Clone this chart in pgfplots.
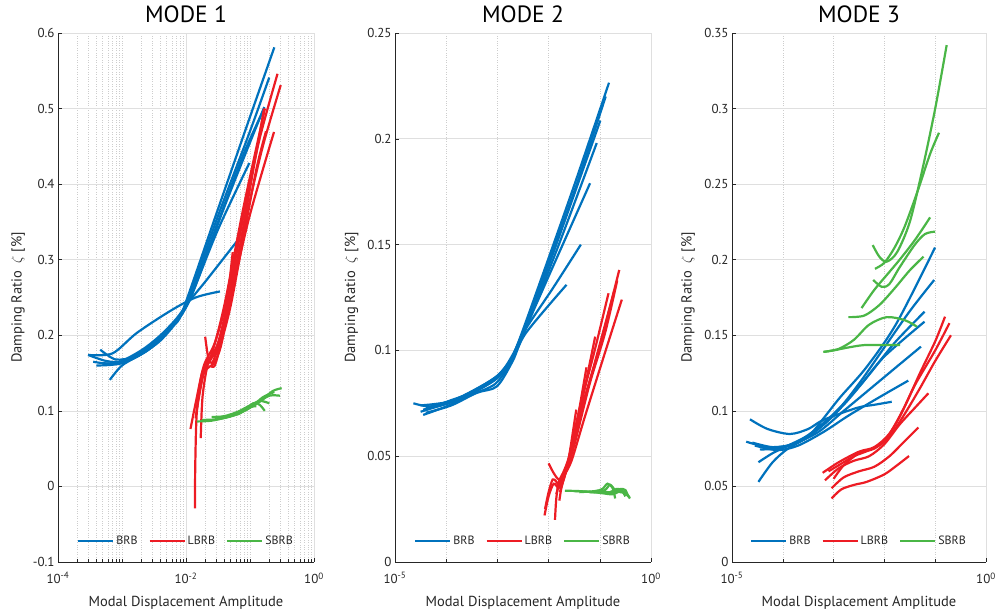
\documentclass[border=0pt]{standalone}
\usepackage{pgfplots}
\pgfplotsset{compat=1.18}
\usepackage{fontspec}
\setmainfont{PT Sans}
\definecolor{cbrb}{RGB}{0,114,189}
\definecolor{clbrb}{RGB}{237,28,36}
\definecolor{csbrb}{RGB}{74,182,70}
\definecolor{axc}{RGB}{38,38,38}
\definecolor{gridc}{RGB}{223,223,223}
\definecolor{mgridc}{RGB}{205,205,205}
\pgfplotsset{
  brb/.style={color=cbrb, line width=2.2pt, smooth, tension=0.5},
  lbrb/.style={color=clbrb, line width=2.2pt, smooth, tension=0.5},
  sbrb/.style={color=csbrb, line width=2.2pt, smooth, tension=0.5},
  mstyle/.style={
    scale only axis, anchor=south west, height=529pt,
    axis x line*=bottom, axis y line*=left,
    axis line style={-, draw=axc, line width=0.6pt},
    tick align=inside, major tick length=4pt, minor tick length=2.5pt,
    every tick/.style={draw=axc, line width=0.5pt},
    xmajorgrids, ymajorgrids, xminorgrids,
    major grid style={solid, draw=gridc, line width=0.7pt},
    minor grid style={dash pattern=on 0.6pt off 1.8pt, draw=mgridc, line width=0.55pt},
    ticklabel style={color=axc, font=\fontsize{13}{15}\selectfont},
    yticklabel style={/pgf/number format/fixed, /pgf/number format/assume math mode=true},
    xticklabel style={yshift=-7pt},
    minor y tick num=0,
    xlabel={Modal Displacement Amplitude},
    ylabel={Damping Ratio \ $\zeta$ [\%]},
    every axis x label/.style={at={(axis description cs:0.5,-0.0845)}, anchor=base,
      color=axc, font=\fontsize{14.5}{17}\selectfont},
    title style={font=\fontsize{23.5}{27}\selectfont, color=black, at={(axis description cs:0.5,1.0246)}, anchor=center},
    legend style={at={(axis description cs:0.5,0.04)}, anchor=center, draw=none, fill=none,
      font=\fontsize{12}{14}\selectfont, text=axc, legend columns=3,
      /tikz/every even column/.append style={column sep=9pt},
      nodes={inner sep=2pt}},
    legend image code/.code={\draw[#1] (0pt,0pt) -- (35pt,0pt);},
    no markers,
  },
  ylab/.style={every axis y label/.style={at={(axis description cs:#1,0.5)}, rotate=90, anchor=base,
      color=axc, font=\fontsize{14.5}{17}\selectfont}},
}
\begin{document}
\begin{tikzpicture}
\useasboundingbox (0,0) rectangle (997pt,615pt);
% ---------------- MODE 1 ----------------
\begin{axis}[mstyle, ylab=-0.1418, at={(58pt,53pt)}, width=256pt, title={MODE 1},
  xmin=-4, xmax=0, ymin=-0.1, ymax=0.6,
  xtick={-4,-2,0}, xticklabels={10\textsuperscript{-4},10\textsuperscript{-2},10\textsuperscript{0}},
  minor xtick={-3.699,-3.523,-3.398,-3.301,-3.222,-3.155,-3.097,-3.046,-3,
    -2.699,-2.523,-2.398,-2.301,-2.222,-2.155,-2.097,-2.046,
    -1.699,-1.523,-1.398,-1.301,-1.222,-1.155,-1.097,-1.046,-1,
    -0.699,-0.523,-0.398,-0.301,-0.222,-0.155,-0.097,-0.046},
  ytick={-0.1,0,0.1,0.2,0.3,0.4,0.5,0.6},
]
\addlegendimage{brb}\addlegendimage{lbrb}\addlegendimage{sbrb}
\legend{BRB,LBRB,SBRB}
% BRB
\addplot[brb] coordinates {(-3.53,0.174)(-3.25,0.166)(-3.0,0.165)(-2.7,0.175)(-2.45,0.19)(-2.2,0.213)(-2.05,0.233)(-1.5,0.367)(-1.0,0.489)(-0.62,0.581)};
\addplot[brb] coordinates {(-3.34,0.181)(-3.1,0.168)(-2.8,0.172)(-2.5,0.188)(-2.2,0.215)(-2.0,0.24)(-1.5,0.358)(-1.0,0.47)(-0.70,0.541)};
\addplot[brb] coordinates {(-3.29,0.163)(-3.05,0.164)(-2.7,0.178)(-2.4,0.197)(-2.1,0.225)(-1.9,0.255)(-1.4,0.37)(-0.777,0.502)};
\addplot[brb] coordinates {(-3.4,0.16)(-3.0,0.163)(-2.6,0.18)(-2.3,0.205)(-2.0,0.238)(-1.5,0.35)(-1.1,0.44)(-0.79,0.498)};
\addplot[brb] coordinates {(-3.19,0.141)(-3.0,0.16)(-2.7,0.175)(-2.4,0.193)(-2.1,0.223)(-1.9,0.256)(-1.5,0.34)(-1.01,0.428)};
\addplot[brb] coordinates {(-3.45,0.165)(-3.1,0.163)(-2.7,0.18)(-2.4,0.2)(-2.15,0.222)(-1.95,0.245)(-1.68,0.273)(-1.18,0.327)};
\addplot[brb] coordinates {(-3.53,0.174)(-3.15,0.176)(-2.77,0.203)(-2.25,0.232)(-1.85,0.25)(-1.47,0.258)};
% LBRB
\addplot[lbrb] coordinates {(-1.93,0.076)(-1.85,0.11)(-1.72,0.16)(-1.55,0.19)(-1.35,0.25)(-1.1,0.36)(-0.85,0.46)(-0.57,0.546)};
\addplot[lbrb] coordinates {(-1.77,0.064)(-1.74,0.12)(-1.65,0.165)(-1.5,0.19)(-1.3,0.26)(-1.05,0.36)(-0.8,0.45)(-0.52,0.531)};
\addplot[lbrb] coordinates {(-1.86,-0.029)(-1.855,0.03)(-1.83,0.1)(-1.75,0.15)(-1.6,0.175)(-1.4,0.24)(-1.1,0.37)(-0.766,0.50)};
\addplot[lbrb] coordinates {(-1.7,0.198)(-1.65,0.17)(-1.58,0.165)(-1.45,0.2)(-1.25,0.27)(-1.0,0.36)(-0.625,0.469)};
\addplot[lbrb] coordinates {(-1.85,0.09)(-1.75,0.145)(-1.6,0.17)(-1.45,0.2)(-1.25,0.29)(-1.016,0.399)};
\addplot[lbrb] coordinates {(-1.83,0.101)(-1.72,0.15)(-1.55,0.165)(-1.42,0.2)(-1.27,0.31)};
\addplot[lbrb] coordinates {(-1.8,0.12)(-1.68,0.165)(-1.5,0.18)(-1.3,0.25)(-1.05,0.37)(-0.78,0.5)};
\addplot[lbrb] coordinates {(-1.62,0.16)(-1.55,0.16)(-1.45,0.19)(-1.3,0.24)(-1.1,0.33)(-0.9,0.42)(-0.75,0.47)};
% SBRB
\addplot[sbrb] coordinates {(-1.83,0.086)(-1.6,0.087)(-1.35,0.092)(-1.1,0.1)(-0.85,0.112)(-0.65,0.126)(-0.505,0.13)};
\addplot[sbrb] coordinates {(-1.6,0.092)(-1.4,0.093)(-1.15,0.1)(-0.9,0.11)(-0.7,0.12)(-0.53,0.12)};
\addplot[sbrb] coordinates {(-1.55,0.09)(-1.3,0.094)(-1.05,0.105)(-0.85,0.113)(-0.70,0.11)};
\addplot[sbrb] coordinates {(-1.4,0.091)(-1.15,0.097)(-0.95,0.11)(-0.85,0.108)(-0.77,0.1)};
\addplot[sbrb] coordinates {(-1.75,0.088)(-1.5,0.089)(-1.25,0.094)(-1.0,0.104)(-0.8,0.118)(-0.62,0.125)};
\addplot[sbrb] coordinates {(-1.2,0.095)(-1.0,0.105)(-0.9,0.106)};
\end{axis}
% ---------------- MODE 2 ----------------
\begin{axis}[mstyle, ylab=-0.156, at={(395pt,53pt)}, width=256pt, title={MODE 2},
  xmin=-5, xmax=0, ymin=0, ymax=0.25,
  xtick={-5,0}, xticklabels={10\textsuperscript{-5},10\textsuperscript{0}},
  minor xtick={-4,-3,-2,-1},
  ytick={0,0.05,0.1,0.15,0.2,0.25},
]
\addlegendimage{brb}\addlegendimage{lbrb}\addlegendimage{sbrb}
\legend{BRB,LBRB,SBRB}
% BRB
\addplot[brb] coordinates {(-4.64,0.075)(-4.3,0.0735)(-3.9,0.0765)(-3.4,0.081)(-3.0,0.087)(-2.8,0.093)(-2.62,0.102)(-2.2,0.13)(-1.5,0.178)(-0.82,0.2265)};
\addplot[brb] coordinates {(-4.45,0.0695)(-4.0,0.0735)(-3.5,0.079)(-3.05,0.084)(-2.8,0.092)(-2.6,0.102)(-2.2,0.129)(-1.5,0.175)(-0.885,0.22)};
\addplot[brb] coordinates {(-4.5,0.071)(-4.0,0.075)(-3.5,0.0805)(-3.0,0.088)(-2.75,0.095)(-2.6,0.103)(-2.0,0.14)(-0.99,0.2086)};
\addplot[brb] coordinates {(-4.4,0.073)(-3.9,0.076)(-3.4,0.082)(-3.0,0.088)(-2.7,0.097)(-2.5,0.107)(-1.8,0.15)(-1.06,0.198)};
\addplot[brb] coordinates {(-4.5,0.074)(-4.0,0.0755)(-3.5,0.080)(-3.05,0.086)(-2.8,0.093)(-2.55,0.105)(-2.0,0.135)(-1.19,0.179)};
\addplot[brb] coordinates {(-4.45,0.072)(-3.95,0.075)(-3.4,0.081)(-2.95,0.089)(-2.7,0.098)(-2.45,0.11)(-1.9,0.13)(-1.37,0.150)};
\addplot[brb] coordinates {(-4.4,0.0705)(-3.9,0.074)(-3.4,0.08)(-3.01,0.083)(-2.7,0.095)(-2.45,0.108)(-1.65,0.131)};
% LBRB
\addplot[lbrb] coordinates {(-2.07,0.025)(-2.0,0.033)(-1.92,0.039)(-1.85,0.038)(-1.78,0.036)(-1.7,0.04)(-1.58,0.051)(-1.39,0.07)(-1.0,0.102)(-0.62,0.138)};
\addplot[lbrb] coordinates {(-2.0,0.0466)(-1.9,0.042)(-1.8,0.039)(-1.7,0.041)(-1.55,0.048)(-1.3,0.068)(-0.95,0.095)(-0.57,0.124)};
\addplot[lbrb] coordinates {(-1.875,0.0199)(-1.85,0.03)(-1.8,0.038)(-1.72,0.042)(-1.6,0.05)(-1.4,0.072)(-1.1,0.1)(-0.83,0.127)};
\addplot[lbrb] coordinates {(-2.08,0.022)(-2.0,0.031)(-1.9,0.037)(-1.8,0.035)(-1.72,0.04)(-1.6,0.048)(-1.4,0.07)(-1.09,0.1065)};
\addplot[lbrb] coordinates {(-1.79,0.029)(-1.75,0.035)(-1.68,0.041)(-1.55,0.052)(-1.26,0.092)};
\addplot[lbrb] coordinates {(-1.78,0.033)(-1.72,0.038)(-1.62,0.047)(-1.46,0.072)};
\addplot[lbrb] coordinates {(-1.85,0.032)(-1.75,0.04)(-1.65,0.044)(-1.5,0.058)(-1.2,0.085)(-0.72,0.128)};
\addplot[lbrb] coordinates {(-1.76,0.038)(-1.66,0.043)(-1.5,0.055)(-1.2,0.084)(-0.9,0.108)(-0.66,0.133)};
% SBRB
\addplot[sbrb] coordinates {(-1.68,0.0337)(-1.4,0.0335)(-1.1,0.033)(-0.9,0.034)(-0.8,0.0365)(-0.7,0.034)(-0.6,0.033)(-0.5,0.0325)(-0.41,0.030)};
\addplot[sbrb] coordinates {(-1.4,0.033)(-1.1,0.0335)(-0.95,0.0345)(-0.85,0.037)(-0.75,0.035)(-0.7,0.030)};
\addplot[sbrb] coordinates {(-1.2,0.033)(-0.9,0.033)(-0.7,0.033)(-0.6,0.0345)(-0.5,0.034)(-0.45,0.031)};
\addplot[sbrb] coordinates {(-1.5,0.0335)(-1.2,0.0332)(-0.95,0.0325)(-0.75,0.032)(-0.6,0.0335)(-0.5,0.033)(-0.42,0.0305)};
\addplot[sbrb] coordinates {(-1.0,0.0335)(-0.8,0.033)(-0.68,0.0345)(-0.58,0.034)(-0.5,0.031)};
\end{axis}
% ---------------- MODE 3 ----------------
\begin{axis}[mstyle, ylab=-0.159, at={(732pt,53pt)}, width=254pt, title={MODE 3},
  xmin=-5, xmax=0, ymin=0, ymax=0.35,
  xtick={-5,0}, xticklabels={10\textsuperscript{-5},10\textsuperscript{0}},
  minor xtick={-4,-3,-2,-1},
  ytick={0,0.05,0.1,0.15,0.2,0.25,0.3,0.35},
]
\addlegendimage{brb}\addlegendimage{lbrb}\addlegendimage{sbrb}
\legend{BRB,LBRB,SBRB}
% BRB
\addplot[brb] coordinates {(-4.48,0.053)(-4.2,0.066)(-3.9,0.075)(-3.5,0.083)(-3.2,0.095)(-2.87,0.109)(-2.35,0.129)(-1.76,0.158)(-1.004,0.208)};
\addplot[brb] coordinates {(-4.72,0.0796)(-4.3,0.076)(-3.9,0.077)(-3.5,0.083)(-3.0,0.097)(-2.5,0.118)(-2.0,0.142)(-1.5,0.166)(-1.02,0.1866)};
\addplot[brb] coordinates {(-4.45,0.0745)(-4.1,0.075)(-3.7,0.079)(-3.3,0.088)(-2.8,0.104)(-2.3,0.124)(-1.8,0.145)(-1.21,0.1656)};
\addplot[brb] coordinates {(-4.48,0.066)(-4.2,0.072)(-3.9,0.077)(-3.5,0.084)(-3.0,0.098)(-2.5,0.116)(-2.0,0.136)(-1.21,0.159)};
\addplot[brb] coordinates {(-4.6,0.079)(-4.2,0.076)(-3.8,0.078)(-3.3,0.086)(-2.8,0.1)(-2.3,0.114)(-1.8,0.128)(-1.28,0.1425)};
\addplot[brb] coordinates {(-4.55,0.077)(-4.1,0.074)(-3.7,0.077)(-3.2,0.086)(-2.7,0.097)(-2.1,0.109)(-1.53,0.12)};
\addplot[brb] coordinates {(-4.646,0.0944)(-4.3,0.088)(-3.86,0.0847)(-3.5,0.088)(-3.2,0.094)(-2.54,0.102)(-2.2,0.104)(-1.856,0.106)};
% LBRB
\addplot[lbrb] coordinates {(-3.215,0.059)(-2.9,0.066)(-2.5,0.073)(-2.2,0.076)(-1.9,0.085)(-1.6,0.103)(-1.3,0.125)(-1.0,0.146)(-0.807,0.1623)};
\addplot[lbrb] coordinates {(-3.1,0.06)(-2.85,0.065)(-2.6,0.07)(-2.3,0.074)(-2.0,0.08)(-1.7,0.096)(-1.4,0.117)(-1.0,0.14)(-0.72,0.158)};
\addplot[lbrb] coordinates {(-3.0,0.055)(-2.8,0.064)(-2.5,0.072)(-2.2,0.075)(-1.9,0.083)(-1.6,0.098)(-1.3,0.115)(-1.0,0.133)(-0.69,0.150)};
\addplot[lbrb] coordinates {(-3.17,0.054)(-2.9,0.062)(-2.6,0.067)(-2.3,0.07)(-2.0,0.078)(-1.7,0.091)(-1.4,0.102)(-1.135,0.1116)};
\addplot[lbrb] coordinates {(-3.04,0.0488)(-2.8,0.056)(-2.5,0.06)(-2.2,0.063)(-1.9,0.07)(-1.6,0.08)(-1.33,0.089)};
\addplot[lbrb] coordinates {(-3.04,0.042)(-2.85,0.048)(-2.6,0.051)(-2.35,0.053)(-2.0,0.058)(-1.75,0.064)(-1.516,0.0701)};
% SBRB
\addplot[sbrb] coordinates {(-3.2,0.139)(-3.0,0.140)(-2.7,0.142)(-2.4,0.1435)(-2.0,0.1435)(-1.69,0.1436)};
\addplot[sbrb] coordinates {(-3.2,0.139)(-2.9,0.141)(-2.6,0.147)(-2.3,0.157)(-1.955,0.162)(-1.6,0.16)(-1.36,0.1557)};
\addplot[sbrb] coordinates {(-2.71,0.162)(-2.4,0.163)(-2.1,0.17)(-1.8,0.181)(-1.5,0.193)(-1.23,0.202)};
\addplot[sbrb] coordinates {(-2.45,0.168)(-2.2,0.18)(-1.95,0.19)(-1.7,0.2)(-1.4,0.213)(-1.1,0.228)};
\addplot[sbrb] coordinates {(-2.22,0.1866)(-2.05,0.182)(-1.9,0.184)(-1.7,0.195)(-1.4,0.21)(-1.2,0.217)(-1.0,0.2186)};
\addplot[sbrb] coordinates {(-2.23,0.2097)(-2.1,0.202)(-1.955,0.1987)(-1.75,0.205)(-1.5,0.225)(-1.25,0.26)(-1.0,0.3)(-0.774,0.342)};
\addplot[sbrb] coordinates {(-2.185,0.194)(-2.0,0.198)(-1.8,0.208)(-1.6,0.222)(-1.35,0.245)(-1.1,0.27)(-0.925,0.284)};
\end{axis}
\end{tikzpicture}
\end{document}
